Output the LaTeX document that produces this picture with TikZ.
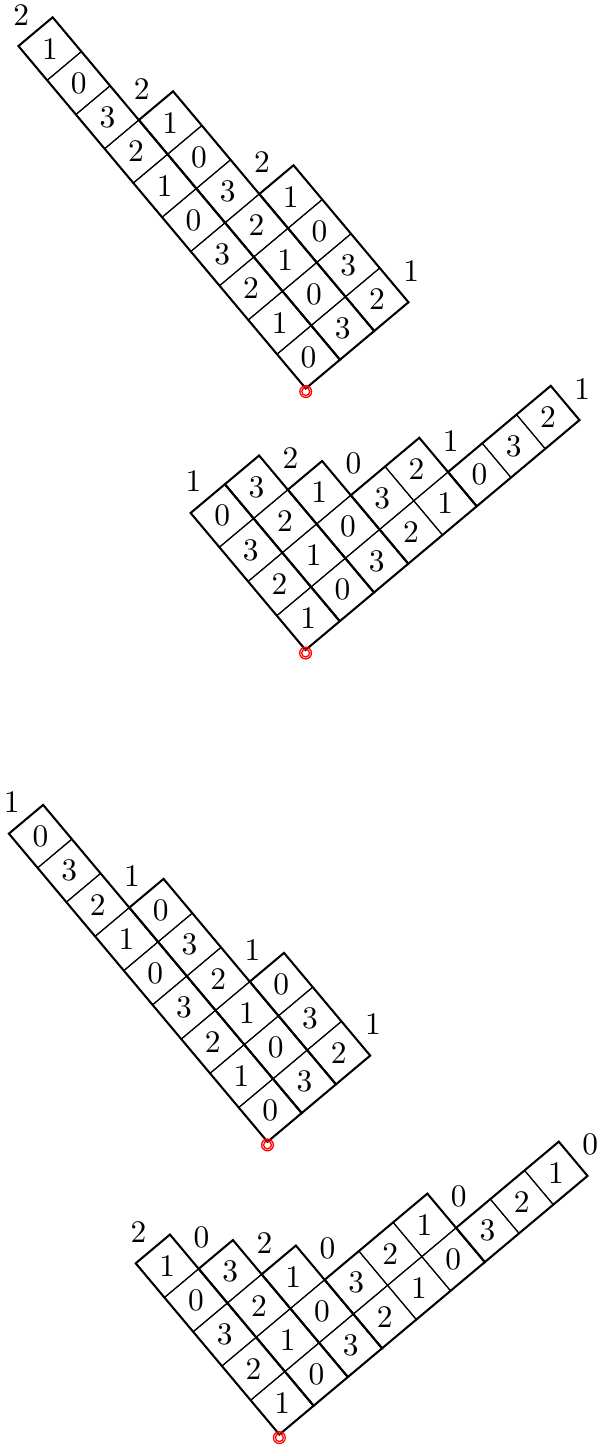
\documentclass[tikz,border=0pt]{standalone}
\usetikzlibrary{positioning}

\tikzset{
  cellbox/.style={draw=black, line width=0.35pt},
  blockbox/.style={draw=black, line width=0.65pt},
  resid/.style={inner sep=0pt},
  origmark/.style={draw=red, line width=0.4pt},
}

% #1 name, #2 corner, #3 charge, #4 blocks start/width/height, #5 addable a/b
\newcommand{\residuediag}[5]{%
  \begin{scope}[shift={#2}, rotate=40, scale=0.5]
    % cells
    \foreach \s/\w/\h in {#4} {
      \pgfmathtruncatemacro{\bend}{\s+\w-1}
      \pgfmathtruncatemacro{\hm}{\h-1}
      \foreach \b in {\s,...,\bend}
        \foreach \a in {0,...,\hm} {
          \pgfmathtruncatemacro{\res}{mod(#3+\a-\b+40,4)}
          \draw[cellbox] (\b,\a) rectangle ++(1,1);
          \node[resid] (#1-\a-\b) at (\b+0.5,\a+0.5) {\res};
        }
      % block outline
      \draw[blockbox] (\s,0) rectangle ++(\w,\h);
    }
    % addable corners
    \foreach \a/\b in {#5} {
      \pgfmathtruncatemacro{\res}{mod(#3+\a-\b+40,4)}
      \node[resid] (#1-l-\a-\b) at (\b+0.5,\a+0.5) {\res};
    }
  \end{scope}
  \draw[origmark] ($#2+(0,-0.035)$) circle (0.066cm) ($#2+(0,-0.035)$) circle (0.044cm);
}

\usetikzlibrary{calc}

\begin{document}
\begin{tikzpicture}
  \useasboundingbox (0,0) rectangle (6.711,-16.186);
  % first pair
  \residuediag{d1}{(3.420,-4.345)}{0}{0/1/10, 1/1/7, 2/1/4}{10/0, 7/1, 4/2, 0/3}
  \residuediag{d2}{(3.418,-7.270)}{1}{0/1/4, 1/1/4, 2/1/3, 3/2/2, 5/3/1}{4/0, 3/2, 2/3, 1/5, 0/8}
  % second pair
  \residuediag{d3}{(2.992,-12.772)}{0}{0/1/9, 1/1/6, 2/1/3}{9/0, 6/1, 3/2, 0/3}
  \residuediag{d4}{(3.125,-16.046)}{1}{0/1/5, 1/1/4, 2/1/3, 3/3/2, 6/3/1}{5/0, 4/1, 3/2, 2/3, 1/6, 0/9}
\end{tikzpicture}
\end{document}
